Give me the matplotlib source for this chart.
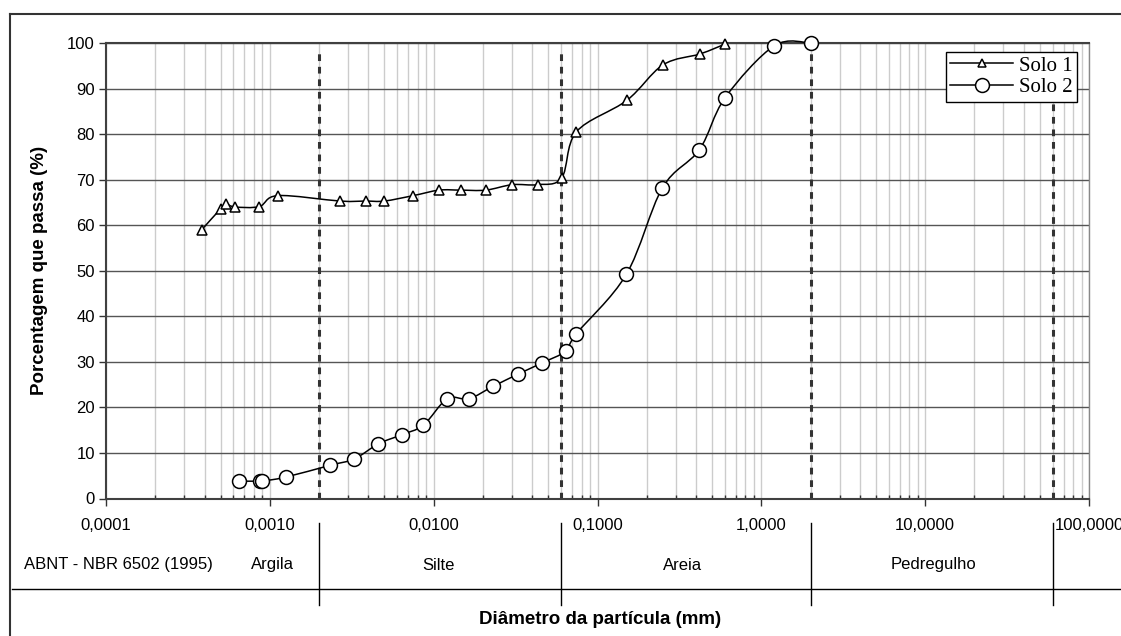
import numpy as np
import matplotlib
matplotlib.use("Agg")
import matplotlib.pyplot as plt
from matplotlib.lines import Line2D
from matplotlib.path import Path
from matplotlib.patches import PathPatch
from matplotlib.ticker import FixedLocator, LogLocator, NullFormatter
from matplotlib.transforms import blended_transform_factory

plt.rcParams["font.family"] = ["Liberation Sans", "DejaVu Sans"]

# Solo 1 (triangles)
solo1_d = [0.000384, 0.000501, 0.00054, 0.000614, 0.000863, 0.00112,
           0.00269, 0.00386, 0.0050, 0.00752, 0.0108, 0.0146, 0.0208,
           0.0302, 0.0432, 0.0605, 0.0743, 0.151, 0.251, 0.423, 0.604]
solo1_p = [59.0, 63.6, 64.6, 64.0, 64.1, 66.5,
           65.3, 65.3, 65.3, 66.5, 67.7, 67.7, 67.7,
           68.9, 68.9, 70.4, 80.5, 87.4, 95.2, 97.6, 99.8]

# Solo 2 (circles)
solo2_d = [0.000646, 0.000874, 0.0009, 0.00125, 0.00234, 0.00328, 0.0046,
           0.00638, 0.00865, 0.0121, 0.0164, 0.0230, 0.0327, 0.0461,
           0.0643, 0.0740, 0.150, 0.249, 0.419, 0.601, 1.20, 2.0]
solo2_p = [3.8, 3.8, 3.8, 4.7, 7.3, 8.7, 12.0,
           14.0, 16.1, 21.9, 21.9, 24.6, 27.3, 29.8,
           32.4, 36.1, 49.2, 68.2, 76.6, 88.0, 99.4, 100.0]

# ABNT NBR 6502 class limits (mm)
limits = [0.002, 0.06, 2.0, 60.0]
classes = ["Argila", "Silte", "Areia", "Pedregulho"]
xticks = [0.0001, 0.001, 0.01, 0.1, 1, 10, 100]
xtick_labels = ["0,0001", "0,0010", "0,0100", "0,1000", "1,0000", "10,0000", "100,0000"]


def smooth_path(xs, ys):
    # Excel-style smoothed line: bezier through the points, in log-x space
    lx = np.log10(xs)
    y = np.asarray(ys, float)
    pts = np.column_stack([lx, y])
    n = len(pts)
    verts = [pts[0]]
    codes = [Path.MOVETO]
    for i in range(n - 1):
        p0 = pts[i - 1] if i > 0 else pts[i]
        p1 = pts[i]
        p2 = pts[i + 1]
        p3 = pts[i + 2] if i + 2 < n else pts[i + 1]
        c1 = p1 + (p2 - p0) / 6.0
        c2 = p2 - (p3 - p1) / 6.0
        verts += [c1, c2, p2]
        codes += [Path.CURVE4] * 3
    verts = np.array(verts)
    verts[:, 0] = 10 ** verts[:, 0]
    return Path(verts, codes)


fig = plt.figure(figsize=(11.21, 6.36), dpi=100)
W, H = 1121, 636
ax = fig.add_axes([106 / W, 1 - 498.5 / H, (1089 - 106) / W, (498.5 - 43) / H])

ax.set_xscale("log")
ax.set_xlim(1e-4, 100)
ax.set_ylim(0, 100)

# grid
ax.xaxis.set_major_locator(FixedLocator(xticks))
ax.xaxis.set_minor_locator(LogLocator(base=10, subs=np.arange(2, 10)))
ax.xaxis.set_minor_formatter(NullFormatter())
ax.set_xticklabels(xtick_labels)
ax.set_yticks(np.arange(0, 101, 10))
ax.grid(True, which="both", axis="x", color="#cccccc", lw=1)
ax.grid(True, which="major", axis="y", color="#555555", lw=1)
ax.set_axisbelow(True)

ax.tick_params(axis="x", which="major", direction="out", length=5, width=1,
               labelsize=12, pad=9, color="#333333")
ax.tick_params(axis="x", which="minor", direction="in", length=3, width=1,
               color="#333333")
ax.tick_params(axis="y", direction="out", length=5, width=1, labelsize=12,
               pad=3, color="#333333")

for s in ["left", "bottom", "top"]:
    ax.spines[s].set_color("#404040")
    ax.spines[s].set_linewidth(1.5)
ax.spines["right"].set_color("#888888")
ax.spines["right"].set_linewidth(1)

# class limits
for d in limits:
    ax.axvline(d, ymin=0, ymax=0.99, color="#333333", lw=2.2,
               ls=(0, (2.2, 1.9)), zorder=2)

# curves
for xs, ys in [(solo1_d, solo1_p), (solo2_d, solo2_p)]:
    ax.add_patch(PathPatch(smooth_path(xs, ys), fill=False, ec="black",
                           lw=1.1, zorder=3, clip_on=False))
ax.plot(solo1_d, solo1_p, ls="none", marker="^", ms=7, mfc="white",
        mec="black", mew=1.1, zorder=4, clip_on=False)
ax.plot(solo2_d, solo2_p, ls="none", marker="o", ms=10, mfc="white",
        mec="black", mew=1.1, zorder=4, clip_on=False)

h1 = Line2D([], [], color="black", lw=1.1, marker="^", ms=6, mfc="white",
            mec="black", mew=1.1)
h2 = Line2D([], [], color="black", lw=1.1, marker="o", ms=10, mfc="white",
            mec="black", mew=1.1)
leg = ax.legend([h1, h2], ["Solo 1", "Solo 2"], loc="upper right",
                bbox_to_anchor=(1 - 12 / 983, 1 - 9 / 455.5),
                prop={"family": "Liberation Serif", "size": 15},
                frameon=True, fancybox=False, framealpha=1, edgecolor="black",
                handlelength=3.0, handletextpad=0.3, labelspacing=0.1,
                borderpad=0.2, borderaxespad=0)
leg.get_frame().set_linewidth(1)

ax.set_ylabel("Porcentagem que passa (%)", fontsize=13.5, fontweight="bold",
              labelpad=14)

# outer frame and classification table
def fig_line(x0, y0, x1, y1, **kw):
    fig.add_artist(Line2D([x0 / W, x1 / W], [1 - y0 / H, 1 - y1 / H],
                          transform=fig.transFigure, **kw))

fig_line(10, 14, 10, H, color="#333333", lw=1.5)
fig_line(10, 14, W, 14, color="#333333", lw=1.5)
fig_line(12, 589, W, 589, color="black", lw=1)

blend = blended_transform_factory(ax.transData, fig.transFigure)
for d in limits:
    fig.add_artist(Line2D([d, d], [1 - 523 / H, 1 - 605 / H], transform=blend,
                          color="black", lw=1, clip_on=False))

row_y = 1 - 565 / H
fig.text(118 / W, row_y, "ABNT - NBR 6502 (1995)", ha="center", va="center",
         fontsize=12)
for name, px in zip(classes, [272, 438, 683, 934]):
    fig.text(px / W, row_y, name, ha="center", va="center", fontsize=12)

fig.text(600 / W, 1 - 620 / H, "Diâmetro da partícula (mm)", ha="center",
         va="center", fontsize=13.5, fontweight="bold")

fig.savefig("out.png", dpi=100)
